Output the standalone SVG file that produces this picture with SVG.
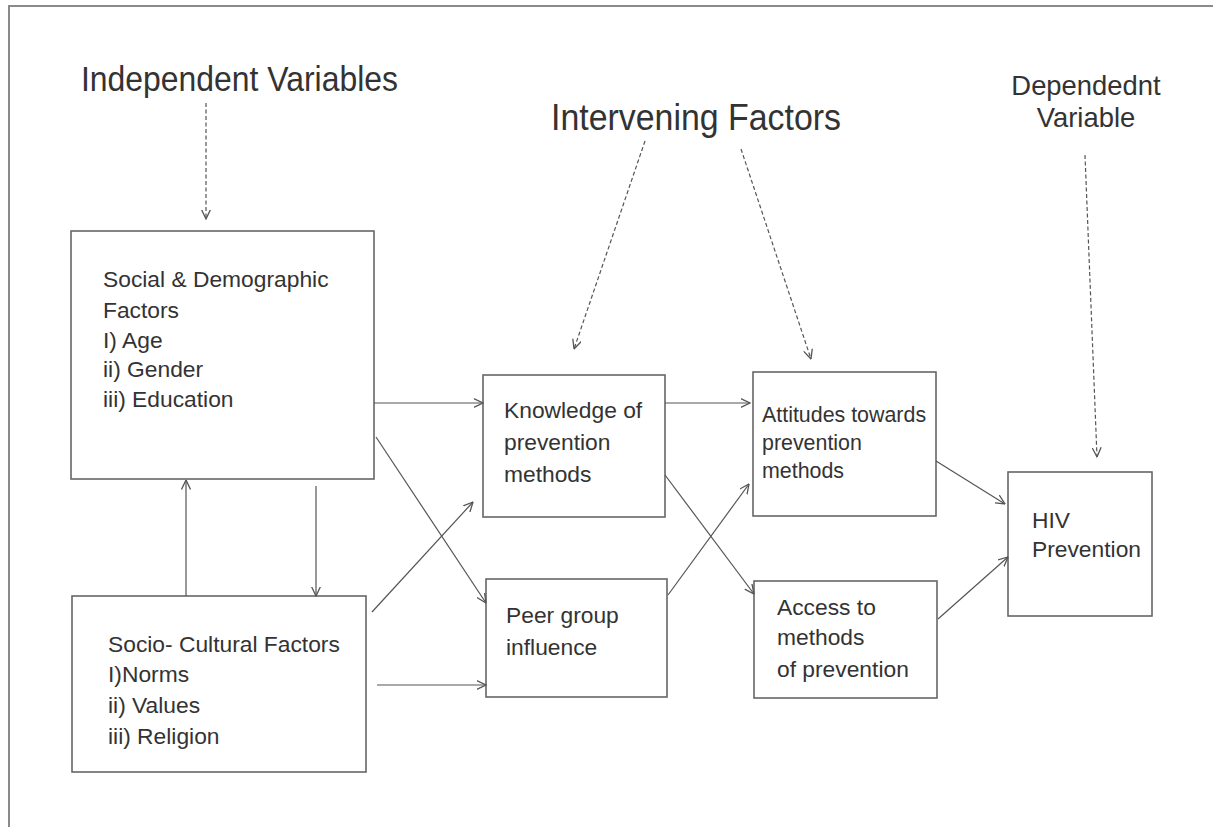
<svg xmlns="http://www.w3.org/2000/svg" width="1213" height="827" viewBox="0 0 1213 827">
<defs>
<marker id="arr" viewBox="0 0 10 10" refX="9.5" refY="5" markerWidth="10" markerHeight="10" markerUnits="userSpaceOnUse" orient="auto">
<path d="M0,0.5 L9.5,5 L0,9.5" fill="none" stroke="#555" stroke-width="1.3"/>
</marker>
</defs>
<style>
.frame{fill:none;stroke:#8a8a8a;stroke-width:2}
.box{fill:#fff;stroke:#666;stroke-width:1.6}
.t{font-family:"Liberation Sans",Arial,sans-serif;fill:#333}
.n{font-size:22.8px}
.s{font-size:21.4px}
.conn line{stroke:#555;stroke-width:1.2;marker-end:url(#arr)}
.conn line.d{stroke-dasharray:4,2.5}
</style>
<rect class="frame" x="9" y="6" width="1230" height="850"/>
<g id="titles">
<text class="t" x="81" y="91" textLength="317" lengthAdjust="spacingAndGlyphs" style="font-size:35px">Independent Variables</text>
<text class="t" x="551" y="130" textLength="290" lengthAdjust="spacingAndGlyphs" style="font-size:36px">Intervening Factors</text>
<text class="t" x="1086" y="95" text-anchor="middle" style="font-size:27.4px">Dependednt</text>
<text class="t" x="1086" y="127" text-anchor="middle" style="font-size:27.4px">Variable</text>
</g>
<g id="social">
<rect class="box" x="71" y="231" width="303" height="248"/>
<text class="t n"><tspan x="103" y="287">Social &amp; Demographic</tspan><tspan x="103" y="318">Factors</tspan><tspan x="103" y="348">I) Age</tspan><tspan x="103" y="377">ii) Gender</tspan><tspan x="103" y="407">iii) Education</tspan></text>
</g>
<g id="sociocultural">
<rect class="box" x="72" y="596" width="294" height="176"/>
<text class="t n"><tspan x="108" y="652">Socio- Cultural Factors</tspan><tspan x="108" y="682">I)Norms</tspan><tspan x="108" y="713">ii) Values</tspan><tspan x="108" y="744">iii) Religion</tspan></text>
</g>
<g id="knowledge">
<rect class="box" x="483" y="375" width="182" height="142"/>
<text class="t n"><tspan x="504" y="418">Knowledge of</tspan><tspan x="504" y="450">prevention</tspan><tspan x="504" y="482">methods</tspan></text>
</g>
<g id="peer">
<rect class="box" x="486" y="579" width="181" height="118"/>
<text class="t n"><tspan x="506" y="623">Peer group</tspan><tspan x="506" y="655">influence</tspan></text>
</g>
<g id="attitudes">
<rect class="box" x="753" y="372" width="183" height="144"/>
<text class="t s"><tspan x="762" y="422">Attitudes towards</tspan><tspan x="762" y="450">prevention</tspan><tspan x="762" y="478">methods</tspan></text>
</g>
<g id="access">
<rect class="box" x="754" y="581" width="183" height="117"/>
<text class="t n"><tspan x="777" y="615">Access to</tspan><tspan x="777" y="645">methods</tspan><tspan x="777" y="677">of prevention</tspan></text>
</g>
<g id="hiv">
<rect class="box" x="1008" y="472" width="144" height="144"/>
<text class="t n"><tspan x="1032" y="528">HIV</tspan><tspan x="1032" y="557">Prevention</tspan></text>
</g>
<g id="connectors" class="conn">
<line x1="374" y1="403" x2="483" y2="403"/>
<line x1="376" y1="437" x2="486" y2="603"/>
<line x1="186" y1="596" x2="186" y2="480"/>
<line x1="316" y1="486" x2="316" y2="596"/>
<line x1="372" y1="612" x2="473" y2="502"/>
<line x1="377" y1="685" x2="486" y2="685"/>
<line x1="665" y1="403" x2="750" y2="403"/>
<line x1="665" y1="475" x2="754" y2="594"/>
<line x1="668" y1="595" x2="749" y2="484"/>
<line x1="936" y1="461" x2="1005" y2="504"/>
<line x1="938" y1="619" x2="1008" y2="557"/>
<line class="d" x1="206" y1="103" x2="206" y2="219"/>
<line class="d" x1="645" y1="141" x2="574" y2="349"/>
<line class="d" x1="741" y1="149" x2="811" y2="359"/>
<line class="d" x1="1085" y1="155" x2="1097" y2="457"/>
</g>
</svg>
